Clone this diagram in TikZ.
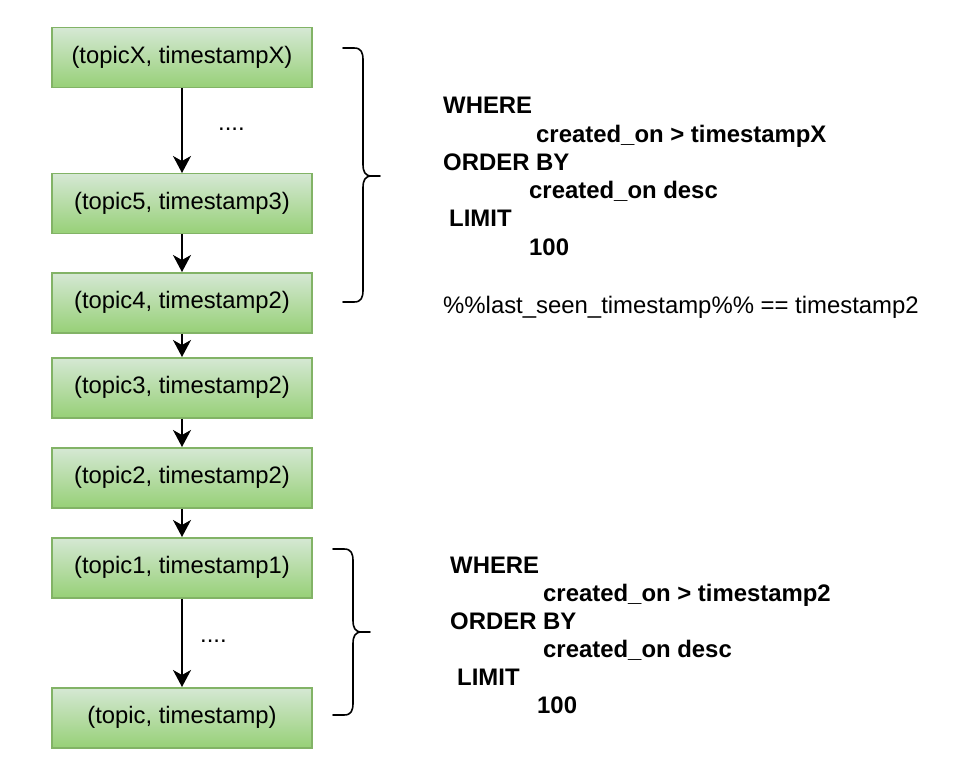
\documentclass[tikz,border=0pt]{standalone}
\usepackage{fontspec}
\setmainfont{Liberation Sans}
\usetikzlibrary{arrows.meta}
\tikzset{
  tbox/.style={draw=boxborder, line width=1.5pt, top color=boxtop, bottom color=boxbot,
    minimum width=260pt, minimum height=60pt, inner sep=0pt, anchor=north,
    font=\fontsize{23.8}{28}\selectfont},
  conn/.style={line width=1.6pt, -{Stealth[length=17pt,width=18pt,inset=5pt]}},
  qtxt/.style={anchor=base west, inner sep=0pt, font=\fontsize{23.9}{28}\selectfont\bfseries},
  ntxt/.style={anchor=base west, inner sep=0pt, font=\fontsize{23.9}{28}\selectfont},
  brace/.style={line width=1.6pt, line cap=round, line join=round}
}
\definecolor{boxtop}{HTML}{D5E8D4}
\definecolor{boxbot}{HTML}{97D077}
\definecolor{boxborder}{HTML}{82B366}
\begin{document}
\begin{tikzpicture}[x=1pt,y=-1pt]
\useasboundingbox (0,0) rectangle (980,778);
% boxes
\node[tbox] (b1) at (182,27) {(topicX, timestampX)};
\node[tbox] (b2) at (182,173) {(topic5, timestamp3)};
\node[tbox] (b3) at (182,272) {(topic4, timestamp2)};
\node[tbox] (b4) at (182,357) {(topic3, timestamp2)};
\node[tbox] (b5) at (182,447) {(topic2, timestamp2)};
\node[tbox] (b6) at (182,537) {(topic1, timestamp1)};
\node[tbox] (b7) at (182,687) {(topic, timestamp)};
% connectors
\draw[conn] (b1) -- (b2);
\draw[conn] (b2) -- (b3);
\draw[conn] (b3) -- (b4);
\draw[conn] (b4) -- (b5);
\draw[conn] (b5) -- (b6);
\draw[conn] (b6) -- (b7);
% dots
\node[ntxt] (d1) at (218,131) {....};
\node[ntxt] (d2) at (200,642) {....};
% braces
\draw[brace] (343,48) -- (354,48) .. controls (361,48) and (363,52) .. (363,60)
  -- (363,164) .. controls (363,172) and (365,176) .. (372,176) -- (380,176);
\draw[brace] (372,176) .. controls (365,176) and (363,180) .. (363,188)
  -- (363,290) .. controls (363,298) and (361,302) .. (354,302) -- (343,302);
\draw[brace] (333,549) -- (344,549) .. controls (351,549) and (353,553) .. (353,561)
  -- (353,620) .. controls (353,628) and (355,632) .. (362,632) -- (370,632);
\draw[brace] (362,632) .. controls (355,632) and (353,636) .. (353,644)
  -- (353,703) .. controls (353,711) and (351,715) .. (344,715) -- (333,715);
% query 1
\node[qtxt] (q1a) at (443,114) {WHERE};
\node[qtxt] (q1b) at (536,142.2) {created\_on > timestampX};
\node[qtxt] (q1c) at (443,170.4) {ORDER BY};
\node[qtxt] (q1d) at (529,198.6) {created\_on desc};
\node[qtxt] (q1e) at (449,226.8) {LIMIT};
\node[qtxt] (q1f) at (529,255) {100};
\node[ntxt] (q1g) at (443,313) {\%\%last\_seen\_timestamp\%\% == timestamp2};
% query 2
\node[qtxt] (q2a) at (450,573) {WHERE};
\node[qtxt] (q2b) at (543,601) {created\_on > timestamp2};
\node[qtxt] (q2c) at (450,629.5) {ORDER BY};
\node[qtxt] (q2d) at (543,657.5) {created\_on desc};
\node[qtxt] (q2e) at (457,685) {LIMIT};
\node[qtxt] (q2f) at (537,713) {100};
\end{tikzpicture}
\end{document}
